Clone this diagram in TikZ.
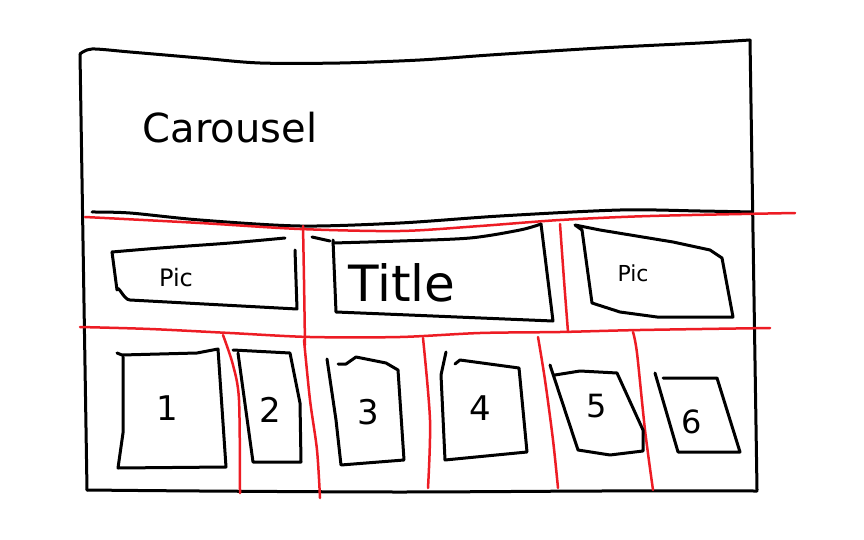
\documentclass[tikz,border=0pt]{standalone}
\usepackage{fontspec}
\setmainfont{DejaVu Sans}
\definecolor{penred}{HTML}{ED1C24}
\begin{document}
\begin{tikzpicture}[x=1pt,y=-1pt,
  ink/.style={line width=3pt,black,line cap=round,line join=round},
  redink/.style={line width=2.5pt,penred,line cap=round,line join=round},
  hand/.style={font=\fontsize{#1}{#1}\selectfont,inner sep=0pt}]
\useasboundingbox[fill=white] (0,0) rectangle (864,540);
% outer frame
\draw[ink] plot[smooth] coordinates {(80,54) (92,49) (130,52) (200,58) (260,63) (340,63) (420,60) (490,55) (600,48) (700,43) (750,40)};
\draw[ink] (80,54) -- (87,490);
\draw[ink] (750,40) -- (757,490);
\draw[ink] plot[smooth] coordinates {(87,490) (200,491) (400,492) (600,491) (757,491)};
% header divider
\draw[ink] plot[smooth] coordinates {(92,212) (130,213) (200,220) (300,226) (400,223) (500,216) (620,210) (700,211) (752,212)};
% title text
\node[hand=40] (carousel) at (230,128) {Carousel};
% red guide lines
\draw[redink] plot[smooth] coordinates {(85,217) (200,223) (300,229) (400,231) (480,226) (560,220) (650,216) (795,213)};
\draw[redink] plot[smooth] coordinates {(80,327) (150,329) (230,333) (310,337) (400,337) (480,333) (560,332) (640,330) (770,328)};
\draw[redink] plot[smooth] coordinates {(303,226) (304,280) (305,345)};
\draw[redink] plot[smooth] coordinates {(560,224) (564,280) (568,332)};
\draw[redink] plot[smooth] coordinates {(223,335) (233,365) (239,400) (240,493)};
\draw[redink] plot[smooth] coordinates {(304,340) (310,400) (317,450) (320,498)};
\draw[redink] plot[smooth] coordinates {(423,338) (430,420) (428,488)};
\draw[redink] plot[smooth] coordinates {(538,337) (545,380) (553,440) (558,488)};
\draw[redink] plot[smooth] coordinates {(633,332) (637,353) (645,430) (653,490)};
% middle row boxes
\draw[ink] plot[smooth] coordinates {(112,252) (160,248) (230,243) (285,238)};
\draw[ink] (112,252) -- (117,290) to[out=80,in=180] (130,300) -- (297,309) -- (295,250);
\node[hand=24] (picL) at (176,278) {Pic};
\draw[ink] (312,237) -- (330,241);
\draw[ink] plot[smooth] coordinates {(333,243) (400,241) (470,238) (520,230) (541,224)};
\draw[ink] (541,224) -- (553,321) -- (409,315) -- (336,312) -- (333,240);
\node[hand=50] (title) at (402,283) {Title};
\draw[ink] (575,225) -- (582,230) -- (592,303) -- (620,312) -- (657,317) -- (733,317) -- (722,258) -- (710,250) -- (673,242) -- (600,230) -- (575,225);
\node[hand=22] (picR) at (633,273) {Pic};
% bottom row boxes
\draw[ink] (117,353) -- (122,355) -- (197,353) -- (218,349) -- (226,467) -- (118,468) -- (123,433) -- (123,357);
\node[hand=34] (n1) at (167,408) {1};
\draw[ink] (233,350) -- (290,353) -- (300,403) -- (301,462) -- (253,462) -- (238,353);
\node[hand=34] (n2) at (270,410) {2};
\draw[ink] (327,359) -- (336,420) -- (341,465) -- (404,460) -- (398,370) -- (386,363) -- (356,357) -- (346,364) -- (338,364);
\node[hand=34] (n3) at (368,412) {3};
\draw[ink] (446,352) -- (441,375) -- (445,460) -- (527,452) -- (519,368) -- (460,360) -- (455,364);
\node[hand=34] (n4) at (480,408) {4};
\draw[ink] (550,365) -- (578,450) -- (610,455) -- (643,451) -- (643,430) -- (617,373) -- (580,371) -- (555,375);
\node[hand=32] (n5) at (597,406) {5};
\draw[ink] (655,373) -- (678,452) -- (740,452) -- (717,378) -- (663,378);
\node[hand=32] (n6) at (692,422) {6};
\end{tikzpicture}
\end{document}
